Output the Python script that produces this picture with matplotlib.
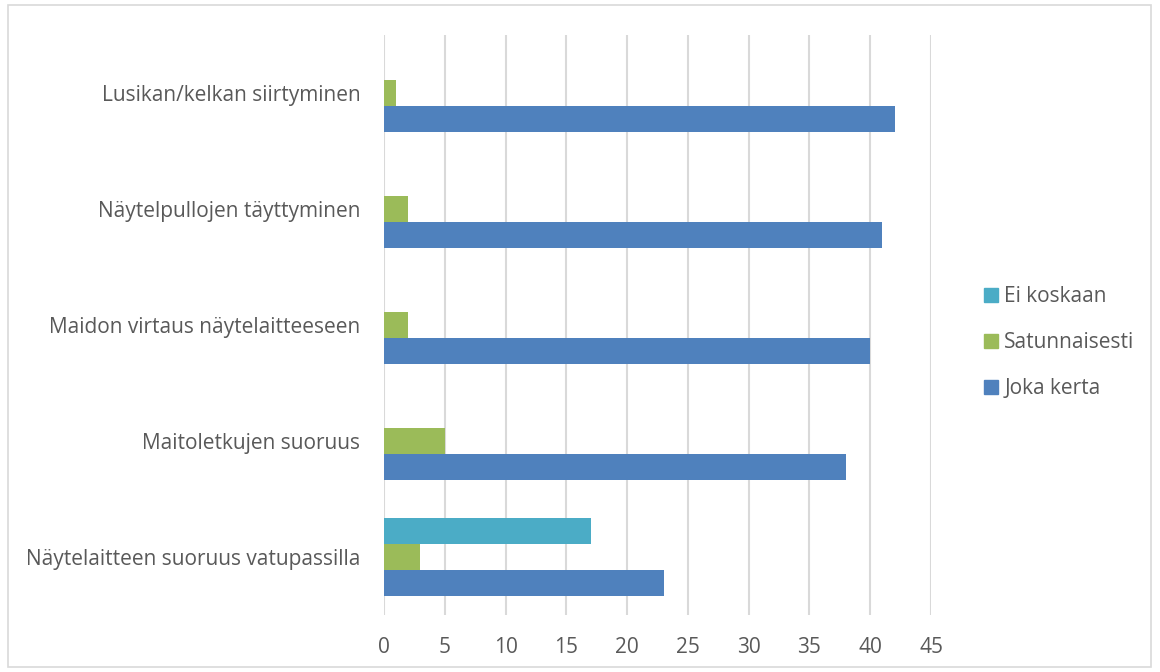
import matplotlib
matplotlib.use("Agg")
import matplotlib.pyplot as plt
from matplotlib.patches import Rectangle, Patch
import numpy as np

categories = ["Lusikan/kelkan siirtyminen", "Näytelpullojen täyttyminen",
              "Maidon virtaus näytelaitteeseen", "Maitoletkujen suoruus",
              "Näytelaitteen suoruus vatupassilla"]
joka_kerta = [42, 41, 40, 38, 23]
satunnaisesti = [1, 2, 2, 5, 3]
ei_koskaan = [0, 0, 0, 0, 17]
xticks = [0, 5, 10, 15, 20, 25, 30, 35, 40, 45]

colors = {"Joka kerta": "#4F81BD", "Satunnaisesti": "#9BBB59", "Ei koskaan": "#4BACC6"}
txt = "#595959"
font = "Open Sans"
fs = 15

fig = plt.figure(figsize=(11.6, 6.72), dpi=100)
ax = fig.add_axes([384/1160, 1-615/672, (931-384)/1160, (615-35)/672])

n = len(categories)
y = np.arange(n)[::-1].astype(float)  # first category at top
h = 0.224
ax.barh(y - h, joka_kerta, height=h, color=colors["Joka kerta"], zorder=3)
ax.barh(y, satunnaisesti, height=h, color=colors["Satunnaisesti"], zorder=3)
ax.barh(y + h, ei_koskaan, height=h, color=colors["Ei koskaan"], zorder=3)

ax.set_xlim(0, 45)
ax.set_ylim(-0.5, n - 0.5)
ax.set_xticks(xticks)
ax.set_xticklabels([str(v) for v in xticks], fontsize=fs, color=txt, family=font)
ax.set_yticks(y)
ax.set_yticklabels(categories, fontsize=fs, color=txt, family=font)
ax.tick_params(axis="both", length=0)
ax.tick_params(axis="x", pad=16)
ax.tick_params(axis="y", pad=17)
ax.grid(axis="x", color="#D9D9D9", linewidth=1.5, zorder=0)
for s in ax.spines.values():
    s.set_visible(False)

handles = [Patch(color=colors[k]) for k in ["Ei koskaan", "Satunnaisesti", "Joka kerta"]]
leg = fig.legend(handles, ["Ei koskaan", "Satunnaisesti", "Joka kerta"],
                 loc="center left", bbox_to_anchor=(965/1160, 1-343/672),
                 frameon=False, handlelength=0.68, handleheight=0.68,
                 handletextpad=0.3, labelspacing=1.2,
                 prop={"family": font, "size": fs})
for t in leg.get_texts():
    t.set_color(txt)

fig.patches.append(Rectangle((8/1160, 1-667/672), (1151-8)/1160, (667-5)/672,
                             transform=fig.transFigure, fill=False,
                             edgecolor="#D9D9D9", linewidth=1.2))

fig.savefig("out.png", dpi=100)
